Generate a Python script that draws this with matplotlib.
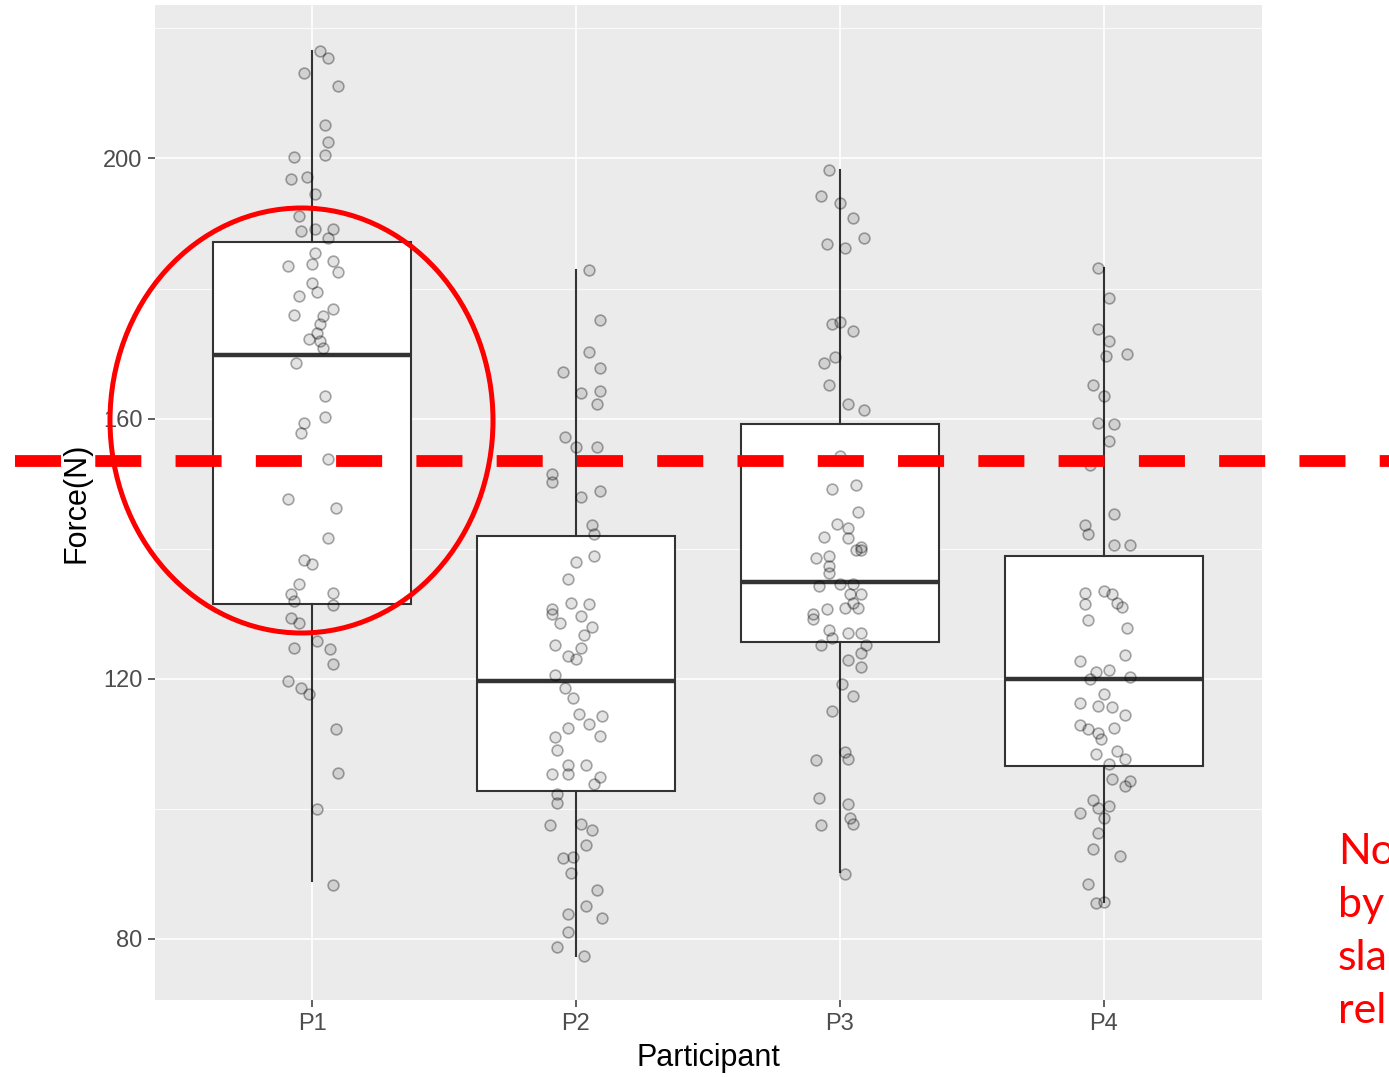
import numpy as np
import matplotlib
matplotlib.use("Agg")
import matplotlib.pyplot as plt
from matplotlib.patches import Ellipse
from matplotlib.lines import Line2D

# Participants and box statistics
participants = ["P1", "P2", "P3", "P4"]
q1 = [131.5, 102.8, 125.7, 106.6]
medians = [169.8, 119.7, 134.8, 120.0]
q3 = [187.1, 142.0, 159.2, 138.8]
whisker_lo = [88.9, 77.4, 90.3, 85.7]
whisker_hi = [216.6, 182.8, 198.3, 183.1]

# Jittered observations (force values and horizontal jitter offsets)
p1_force = [216.5, 215.4, 213.2, 211.2, 205.1, 202.5, 200.5, 200.3, 196.8, 197.2,
            194.5, 191.2, 188.9, 189.1, 189.1, 187.7, 185.5, 183.5, 183.8, 184.3,
            182.5, 180.9, 179.4, 178.8, 176.9, 176.0, 175.8, 174.6, 173.2, 172.3,
            172.0, 170.8, 168.6, 163.5, 160.2, 159.4, 157.8, 153.8, 147.7, 146.3,
            141.7, 138.3, 137.7, 134.6, 133.1, 133.2, 132.0, 131.4, 129.4, 128.5,
            124.8, 125.8, 124.5, 122.2, 119.7, 118.6, 117.7, 112.3, 105.5, 100.0,
            88.3]
p1_jitter = [0.03, 0.06, -0.03, 0.10, 0.05, 0.06, 0.05, -0.07, -0.08, -0.02,
             0.01, -0.05, -0.04, 0.01, 0.08, 0.06, 0.01, -0.09, 0.00, 0.08,
             0.10, 0.00, 0.02, -0.05, 0.08, -0.07, 0.04, 0.03, 0.02, -0.01,
             0.03, 0.04, -0.06, 0.05, 0.05, -0.03, -0.04, 0.06, -0.09, 0.09,
             0.06, -0.03, 0.00, -0.05, -0.08, 0.08, -0.07, 0.08, -0.08, -0.05,
             -0.07, 0.02, 0.07, 0.08, -0.09, -0.04, -0.01, 0.09, 0.10, 0.02,
             0.08]

p2_force = [182.8, 175.2, 170.3, 167.1, 167.8, 164.0, 164.3, 162.3, 157.1, 155.7,
            155.7, 151.5, 150.2, 148.0, 148.9, 143.7, 142.2, 138.9, 138.0, 135.4,
            131.7, 131.5, 130.8, 130.0, 129.7, 128.5, 128.0, 126.8, 125.2, 124.8,
            123.5, 123.1, 120.5, 118.6, 117.1, 114.6, 114.3, 113.1, 112.5, 111.1,
            111.2, 109.1, 106.8, 106.8, 105.4, 105.4, 104.9, 103.8, 102.3, 100.9,
            97.5, 97.7, 96.8, 94.5, 92.5, 92.6, 90.2, 87.5, 85.1, 83.8,
            83.2, 81.1, 78.8, 77.4]
p2_jitter = [0.05, 0.09, 0.05, -0.05, 0.09, 0.02, 0.09, 0.08, -0.04, 0.00,
             0.08, -0.09, -0.09, 0.02, 0.09, 0.06, 0.07, 0.07, 0.00, -0.03,
             -0.02, 0.05, -0.09, -0.09, 0.02, -0.06, 0.06, 0.03, -0.08, 0.02,
             -0.03, 0.00, -0.08, -0.04, -0.01, 0.01, 0.10, 0.05, -0.03, -0.08,
             0.09, -0.07, -0.03, 0.04, -0.09, -0.03, 0.09, 0.07, -0.07, -0.07,
             -0.10, 0.02, 0.06, 0.04, -0.05, -0.01, -0.02, 0.08, 0.04, -0.03,
             0.10, -0.03, -0.07, 0.03]

p3_force = [198.3, 194.3, 193.1, 190.9, 186.9, 187.8, 186.2, 174.6, 174.8, 173.4,
            169.5, 168.5, 165.2, 162.2, 161.4, 154.3, 149.1, 149.8, 145.7, 143.8,
            143.2, 141.8, 141.7, 140.2, 139.8, 139.8, 138.5, 138.9, 137.4, 136.3,
            134.3, 134.6, 134.6, 133.1, 133.1, 130.8, 130.0, 130.9, 131.7, 130.9,
            129.2, 127.5, 127.1, 127.1, 125.2, 126.2, 125.2, 124.0, 122.9, 121.8,
            119.2, 117.4, 115.1, 108.8, 107.7, 107.5, 101.7, 100.8, 98.6, 97.7,
            97.5, 90.0]
p3_jitter = [-0.04, -0.07, 0.00, 0.05, -0.05, 0.09, 0.02, -0.03, 0.00, 0.05,
             -0.02, -0.06, -0.04, 0.03, 0.09, 0.00, -0.03, 0.06, 0.07, -0.01,
             0.03, -0.06, 0.03, 0.08, 0.06, 0.08, -0.09, -0.04, -0.04, -0.04,
             -0.08, 0.00, 0.05, 0.04, 0.08, -0.05, -0.10, 0.02, 0.05, 0.07,
             -0.10, -0.04, 0.03, 0.08, -0.07, -0.03, 0.10, 0.08, 0.03, 0.08,
             0.01, 0.05, -0.03, 0.02, 0.03, -0.09, -0.08, 0.03, 0.04, 0.05,
             -0.07, 0.02]

p4_force = [183.1, 178.6, 173.8, 172.0, 169.7, 170.0, 165.2, 163.4, 159.4, 159.2,
            156.6, 152.8, 145.4, 143.7, 142.2, 140.5, 140.5, 133.2, 133.5, 133.1,
            131.5, 131.7, 131.1, 129.1, 127.8, 122.8, 123.7, 121.1, 121.4, 120.0,
            120.2, 117.7, 116.2, 115.8, 115.7, 114.5, 112.9, 112.3, 111.7, 112.5,
            110.8, 108.5, 108.9, 107.7, 106.9, 104.6, 104.3, 103.5, 101.4, 99.4,
            100.2, 100.5, 98.6, 96.3, 93.8, 92.8, 88.5, 85.5, 85.7]
p4_jitter = [-0.02, 0.02, -0.02, 0.02, 0.01, 0.09, -0.04, 0.00, -0.02, 0.04,
             0.02, -0.05, 0.04, -0.07, -0.06, 0.04, 0.10, -0.07, 0.00, 0.03,
             -0.07, 0.05, 0.07, -0.06, 0.09, -0.09, 0.08, -0.03, 0.02, -0.05,
             0.10, 0.00, -0.09, -0.02, 0.03, 0.08, -0.09, -0.06, -0.02, 0.04,
             -0.01, -0.03, 0.05, 0.08, 0.02, 0.03, 0.10, 0.08, -0.04, -0.09,
             -0.02, 0.02, -0.00, -0.02, -0.04, 0.06, -0.06, -0.03, 0.00]

all_force = [p1_force, p2_force, p3_force, p4_force]
all_jitter = [p1_jitter, p2_jitter, p3_jitter, p4_jitter]

y_ticks = [80, 120, 160, 200]
threshold = 153.5

W, H = 1389, 1077
fig = plt.figure(figsize=(W / 100, H / 100), dpi=100)
plt.rcParams['font.family'] = ['Liberation Sans', 'DejaVu Sans']

ax = fig.add_axes([155 / W, 1 - 1000 / H, (1262 - 155) / W, (1000 - 5) / H])
ax.set_facecolor("#EBEBEB")
for s in ax.spines.values():
    s.set_visible(False)

# grid, ggplot style
for v in [100, 140, 180, 220]:
    ax.axhline(v, color="white", lw=0.6, zorder=0)
for v in y_ticks:
    ax.axhline(v, color="white", lw=1.2, zorder=0)
positions = np.arange(1, len(participants) + 1)
for p in positions:
    ax.axvline(p, color="white", lw=1.2, zorder=0)

# boxes
stats = []
for i in range(len(participants)):
    stats.append(dict(med=medians[i], q1=q1[i], q3=q3[i],
                      whislo=whisker_lo[i], whishi=whisker_hi[i], fliers=[]))
ax.bxp(stats, positions=positions, widths=0.75, patch_artist=True,
       showcaps=False, showfliers=False,
       boxprops=dict(facecolor="white", edgecolor="#333333", linewidth=1.5),
       whiskerprops=dict(color="#333333", linewidth=1.5),
       medianprops=dict(color="#333333", linewidth=3.2),
       zorder=2)

# jittered points
for i, (vals, jit) in enumerate(zip(all_force, all_jitter)):
    x = positions[i] + np.array(jit)
    ax.scatter(x, vals, s=60, facecolor=(0, 0, 0, 0.11),
               edgecolor=(0, 0, 0, 0.33), linewidth=1.2, zorder=3)

ax.set_xlim(0.405, 4.6)
ax.set_ylim(70.6, 223.6)
ax.set_xticks(positions)
ax.set_xticklabels(participants)
ax.set_yticks(y_ticks)
ax.tick_params(axis="both", colors="#333333", length=5, width=1.1,
               labelsize=17, labelcolor="#4D4D4D", pad=4)
ax.set_xlabel("Participant", fontsize=22, labelpad=6)
ax.set_ylabel("Force(N)", fontsize=22, labelpad=8)

# red annotations on top
y_thr = ax.transData.transform((1, threshold))[1] / H
fig.add_artist(Line2D([15 / W, 1.0], [y_thr, y_thr], transform=fig.transFigure,
                      color="red", lw=8.5, linestyle=(0, (3.9, 2.9)),
                      solid_capstyle="butt", dash_capstyle="butt"))
fig.add_artist(Ellipse((301.5 / W, 1 - 420.5 / H), 383 / W, 425 / H,
                       transform=fig.transFigure, fill=False,
                       edgecolor="red", lw=3.6))
fig.text(1338 / W, 1 - 833 / H, "No\nby\nsla\nrel", color="red",
         fontsize=31, family=["Lato", "DejaVu Sans"], ha="left", va="top",
         linespacing=1.48)

fig.savefig("out.png", dpi=100)
